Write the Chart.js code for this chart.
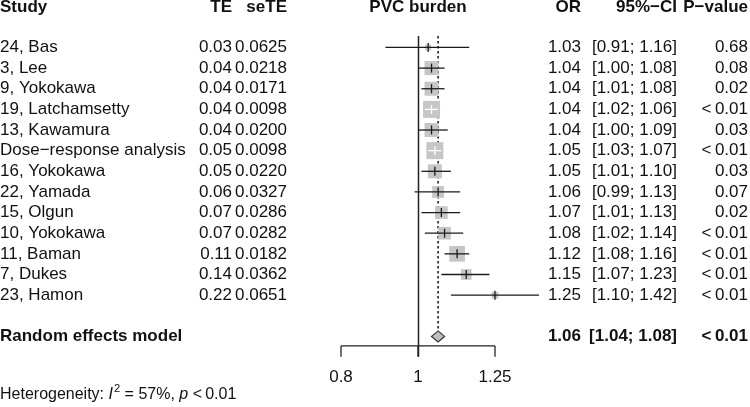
<!DOCTYPE html>
<html>
<head>
<meta charset="utf-8">
<script src="https://cdn.jsdelivr.net/npm/chart.js@4.4.1/dist/chart.umd.min.js"></script>
<style>
html,body{margin:0;padding:0;background:#fff;}
#wrap{width:750px;height:407px;}
</style>
</head>
<body>
<div id="wrap"><canvas id="c" width="750" height="407"></canvas></div>
<script>
// ---- data ----
const studies = ["24, Bas","3, Lee","9, Yokokawa","19, Latchamsetty","13, Kawamura","Dose\u2212response analysis","16, Yokokawa","22, Yamada","15, Olgun","10, Yokokawa","11, Baman","7, Dukes","23, Hamon"];
const te = [0.03,0.04,0.04,0.04,0.04,0.05,0.05,0.06,0.07,0.07,0.11,0.14,0.22];
const seTE = [0.0625,0.0218,0.0171,0.0098,0.0200,0.0098,0.0220,0.0327,0.0286,0.0282,0.0182,0.0362,0.0651];
const oddsRatio = [1.03,1.04,1.04,1.04,1.04,1.05,1.05,1.06,1.07,1.08,1.12,1.15,1.25];
const ciLower = [0.91,1.00,1.01,1.02,1.00,1.03,1.01,0.99,1.01,1.02,1.08,1.07,1.10];
const ciUpper = [1.16,1.08,1.08,1.06,1.09,1.07,1.10,1.13,1.13,1.14,1.16,1.23,1.42];
const pValues = ["0.68","0.08","0.02","<\u20090.01","0.03","<\u20090.01","0.03","0.07","0.02","<\u20090.01","<\u20090.01","<\u20090.01","<\u20090.01"];
const weights = [1.6,8.7,8.7,12.8,8.7,12.8,8.7,6.1,7.1,7.1,10.9,5.0,2.0];
const pooled = {label:"Random effects model", or:1.06, lower:1.04, upper:1.08, p:"<\u20090.01"};
const heterogeneity = {i2:57, p:"<\u20090.01"};
const headers = ["Study","TE","seTE","PVC burden","OR","95%\u2212CI","P\u2212value"];
const tickValues = [0.8, 1, 1.25];
const tickLabels = ["0.8","1","1.25"];

// ---- layout (rows on y scale) ----
const rowY = studies.map((s,i)=>i+1);
const pooledRow = 15;
const headerRow = -0.93;
const axisRow = 15.46;
const tickEndRow = 15.99;
const tickLabelRow = 16.96;
const hetRow = 17.83;
const refTopRow = 0.45;

const FONT = '"Liberation Sans", Arial, Helvetica, sans-serif';
const FS = 17;
const maxW = Math.max(...weights);
const MAXSIDE = 17;
const sideFor = w => MAXSIDE*Math.sqrt(w/maxW);

const forestPlugin = {
  id:'forest',
  beforeDraw(chart){
    const ctx = chart.ctx;
    ctx.save(); ctx.fillStyle='#fff'; ctx.fillRect(0,0,chart.width,chart.height); ctx.restore();
  },
  beforeDatasetsDraw(chart){
    const ctx = chart.ctx, xs = chart.scales.x, ys = chart.scales.y;
    ctx.save();
    const x1 = Math.round(xs.getPixelForValue(1))+0.5;
    ctx.strokeStyle='#222'; ctx.lineWidth=1.5;
    ctx.beginPath(); ctx.moveTo(x1, ys.getPixelForValue(refTopRow)); ctx.lineTo(x1, ys.getPixelForValue(tickEndRow)); ctx.stroke();
    const xp = xs.getPixelForValue(pooled.or);
    ctx.setLineDash([2.5,2.5]); ctx.lineWidth=1.6;
    ctx.beginPath(); ctx.moveTo(xp, ys.getPixelForValue(refTopRow)); ctx.lineTo(xp, ys.getPixelForValue(pooledRow)-5.5); ctx.stroke();
    ctx.setLineDash([]);
    const ya = ys.getPixelForValue(axisRow), yt = ys.getPixelForValue(tickEndRow);
    ctx.lineWidth=1.3;
    ctx.beginPath(); ctx.moveTo(xs.getPixelForValue(tickValues[0]), ya); ctx.lineTo(xs.getPixelForValue(tickValues[tickValues.length-1]), ya); ctx.stroke();
    tickValues.forEach(v=>{ const x=xs.getPixelForValue(v); ctx.beginPath(); ctx.moveTo(x,ya); ctx.lineTo(x,yt); ctx.stroke(); });
    ctx.fillStyle='#111'; ctx.font=FS+'px '+FONT; ctx.textAlign='center'; ctx.textBaseline='middle';
    tickValues.forEach((v,i)=>{ ctx.fillText(tickLabels[i], xs.getPixelForValue(v), ys.getPixelForValue(tickLabelRow)); });
    ctx.restore();
  },
  afterDatasetsDraw(chart){
    const ctx = chart.ctx, xs = chart.scales.x, ys = chart.scales.y;
    ctx.save();
    studies.forEach((s,i)=>{
      const y = ys.getPixelForValue(rowY[i]);
      const xl = xs.getPixelForValue(ciLower[i]), xu = xs.getPixelForValue(ciUpper[i]), xe = xs.getPixelForValue(oddsRatio[i]);
      const side = sideFor(weights[i]);
      const inside = (xu-xl) < side;
      ctx.strokeStyle = inside ? '#fff' : '#1a1a1a';
      ctx.lineWidth = 1.3;
      ctx.beginPath(); ctx.moveTo(xl,y); ctx.lineTo(xu,y); ctx.stroke();
      ctx.beginPath(); ctx.moveTo(xe,y-4.5); ctx.lineTo(xe,y+4.5); ctx.stroke();
    });
    const yd = ys.getPixelForValue(pooledRow);
    const dl = xs.getPixelForValue(pooled.lower), du = xs.getPixelForValue(pooled.upper), dc = xs.getPixelForValue(pooled.or);
    ctx.beginPath(); ctx.moveTo(dl,yd); ctx.lineTo(dc,yd-5.5); ctx.lineTo(du,yd); ctx.lineTo(dc,yd+5.5); ctx.closePath();
    ctx.fillStyle='#bebebe'; ctx.fill(); ctx.strokeStyle='#333'; ctx.lineWidth=1.2; ctx.stroke();
    ctx.restore();
  },
  afterDraw(chart){
    const ctx = chart.ctx, xs = chart.scales.x, ys = chart.scales.y;
    ctx.save();
    ctx.fillStyle='#111'; ctx.textBaseline='middle';
    const colTE=232, colSE=287, colOR=581, colCI=677, colP=748;
    const yh = ys.getPixelForValue(headerRow);
    ctx.font='bold '+FS+'px '+FONT;
    ctx.textAlign='left'; ctx.fillText(headers[0],0,yh);
    ctx.textAlign='right'; ctx.fillText(headers[1],colTE,yh); ctx.fillText(headers[2],colSE,yh);
    ctx.textAlign='center'; ctx.fillText(headers[3], xs.getPixelForValue(1), yh);
    ctx.textAlign='right'; ctx.fillText(headers[4],colOR,yh); ctx.fillText(headers[5],colCI,yh); ctx.fillText(headers[6],colP,yh);
    ctx.font=FS+'px '+FONT;
    studies.forEach((s,i)=>{
      const y = ys.getPixelForValue(rowY[i]);
      ctx.textAlign='left'; ctx.fillText(s,0,y);
      ctx.textAlign='right';
      ctx.fillText(te[i].toFixed(2),colTE,y);
      ctx.fillText(seTE[i].toFixed(4),colSE,y);
      ctx.fillText(oddsRatio[i].toFixed(2),colOR,y);
      ctx.fillText('['+ciLower[i].toFixed(2)+'; '+ciUpper[i].toFixed(2)+']',colCI,y);
      ctx.fillText(pValues[i],colP,y);
    });
    const yp = ys.getPixelForValue(pooledRow);
    ctx.font='bold '+FS+'px '+FONT;
    ctx.textAlign='left'; ctx.fillText(pooled.label,0,yp);
    ctx.textAlign='right';
    ctx.fillText(pooled.or.toFixed(2),colOR,yp);
    ctx.fillText('['+pooled.lower.toFixed(2)+'; '+pooled.upper.toFixed(2)+']',colCI,yp);
    ctx.fillText(pooled.p,colP,yp);
    const yhz = ys.getPixelForValue(hetRow);
    ctx.textAlign='left';
    let x = 0;
    const HFS = 16;
    const part = (t,f,dy)=>{ ctx.font=f; ctx.fillText(t,x,yhz+(dy||0)); x+=ctx.measureText(t).width; };
    const reg = HFS+'px '+FONT, it='italic '+HFS+'px '+FONT, sup=(HFS*0.7)+'px '+FONT;
    part('Heterogeneity: ',reg); part('I',it); x+=1; part('2',sup,-6); part(' = '+heterogeneity.i2+'%, ',reg); part('p',it); part(' '+heterogeneity.p,reg);
    ctx.restore();
  }
};

new Chart(document.getElementById('c'), {
  type:'scatter',
  data:{
    datasets:[{
      data: studies.map((s,i)=>({x:oddsRatio[i], y:rowY[i]})),
      pointStyle:'rect',
      pointRadius: weights.map(w=>sideFor(w)/Math.SQRT2),
      pointHoverRadius: weights.map(w=>sideFor(w)/Math.SQRT2),
      backgroundColor:'#c6c6c6',
      borderWidth:0,
      clip:false
    }]
  },
  options:{
    responsive:false, animation:false, devicePixelRatio:1,
    layout:{autoPadding:false, padding:{left:341,right:255,top:0,bottom:0}},
    plugins:{legend:{display:false}, tooltip:{enabled:false}},
    events:[],
    scales:{
      x:{type:'logarithmic', min:0.8, max:1.25, display:false},
      y:{type:'linear', min:-1.3, max:18.42, reverse:true, display:false}
    }
  },
  plugins:[forestPlugin]
});
</script>
</body>
</html>
